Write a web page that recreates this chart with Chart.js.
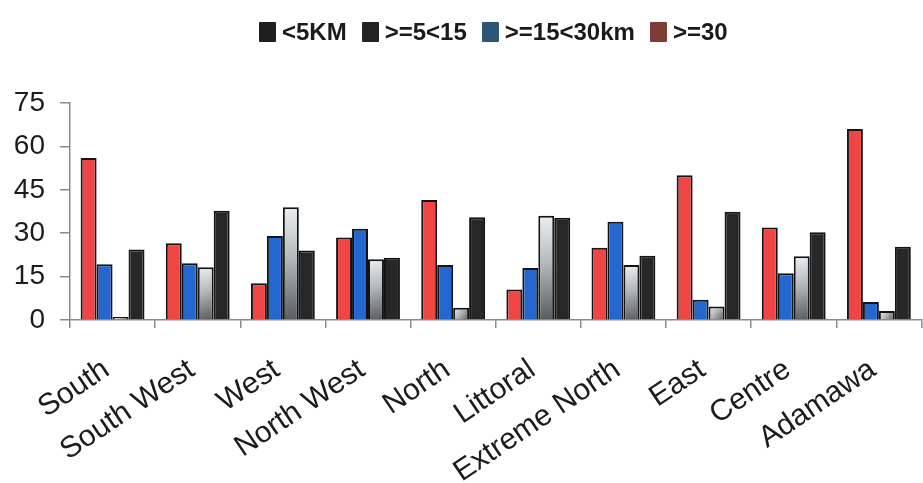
<!DOCTYPE html>
<html>
<head>
<meta charset="utf-8">
<script src="https://cdn.jsdelivr.net/npm/chart.js@4/dist/chart.umd.min.js"></script>
<style>
  html, body { margin: 0; padding: 0; background: #fff; }
  #wrap { position: relative; width: 923px; height: 483px; }
  #legend {
    position: absolute; left: 259px; top: 20px; height: 24px;
    display: flex; align-items: center;
    font-family: "Liberation Sans", Arial, sans-serif; font-weight: bold; font-size: 24px; color: #1a1a1a;
  }
  #legend .item { display: flex; align-items: center; margin-right: 15px; }
  #legend .box { width: 17px; height: 20px; margin-right: 6px; border-radius: 1px; }
</style>
</head>
<body>
<div id="wrap">
  <canvas id="c" width="923" height="483"></canvas>
  <div id="legend"></div>
</div>
<script>
// Regions and distance bands
const regions = ["South", "South West", "West", "North West", "North", "Littoral", "Extreme North", "East", "Centre", "Adamawa"];
const yTicks = [0, 15, 30, 45, 60, 75];

const over30     = [56, 26.5, 12.7, 28.5, 41.5, 10.5, 25, 50, 32, 66];
const from15to30 = [19.3, 19.6, 29, 31.5, 19, 18, 34, 7, 16.2, 6.2];
const from5to15  = [1, 18.2, 39, 21, 4.2, 36, 19, 4.7, 22, 3.1];
const under5     = [24.4, 37.8, 24, 21.5, 35.5, 35.3, 22.2, 37.4, 30.3, 25.3];

const legendItems = [
  { label: "<5KM", color: "#1f1f1f" },
  { label: ">=5<15", color: "#232323" },
  { label: ">=15<30km", color: "#2b5676" },
  { label: ">=30", color: "#7d3c34" }
];

const FONT = "'Liberation Sans', Arial, sans-serif";

// shaded fill for the >=5<15 bars, light at top-left, darker at bottom-right
function silverFill(context) {
  const chart = context.chart;
  if (!chart.chartArea || !chart.scales.y || !chart.scales.x) return "#b8bcbf";
  const y = chart.scales.y;
  const v = context.raw;
  const top = y.getPixelForValue(v);
  const base = y.getPixelForValue(0);
  const meta = chart.getDatasetMeta(context.datasetIndex);
  const el = meta.data[context.dataIndex];
  let x0 = 0, x1 = 16;
  if (el && el.width) { x0 = el.x - el.width / 2; x1 = el.x + el.width / 2; }
  const g = chart.ctx.createLinearGradient(x0, top, x1, Math.max(base, top + 1));
  g.addColorStop(0, "#eef1f3");
  g.addColorStop(0.45, "#b5b9bc");
  g.addColorStop(1, "#565a5c");
  return g;
}

const ds = (label, data, bg) => ({
  label, data, backgroundColor: bg,
  borderColor: "#141414", borderWidth: 2, borderSkipped: "start",
  barPercentage: 1.0, categoryPercentage: 0.75
});

const chart = new Chart(document.getElementById("c"), {
  type: "bar",
  data: {
    labels: regions,
    datasets: [
      ds(">=30", over30, "#ef4545"),
      ds(">=15<30km", from15to30, "#2468cf"),
      ds(">=5<15", from5to15, silverFill),
      ds("<5KM", under5, "#272727")
    ]
  },
  options: {
    responsive: false,
    animation: false,
    layout: { padding: { top: 103, left: 12, right: 0, bottom: 0 } },
    plugins: { legend: { display: false }, tooltip: { enabled: false } },
    scales: {
      x: {
        grid: { display: true, drawOnChartArea: false, offset: true, tickLength: 8, color: "#8a8a8a", lineWidth: 1.5 },
        border: { display: true, color: "#8a8a8a", width: 1.5 },
        ticks: {
          autoSkip: false, minRotation: 34, maxRotation: 34, padding: 24, labelOffset: -6,
          color: "#1c1c1c", font: { family: FONT, size: 30 }
        },
        afterFit: (s) => { s.height = 163; }
      },
      y: {
        min: 0, max: 75,
        afterBuildTicks: (s) => { s.ticks = yTicks.map(v => ({ value: v })); },
        grid: { display: true, drawOnChartArea: false, tickLength: 10, color: "#8a8a8a", lineWidth: 1.5 },
        border: { display: true, color: "#8a8a8a", width: 1.5 },
        ticks: { padding: 15, color: "#1c1c1c", font: { family: FONT, size: 28 } },
        afterFit: (s) => { s.width = 58; }
      }
    }
  }
});
// re-render once element geometry is known so the shaded bars get per-bar gradients
chart.update();

const legend = document.getElementById("legend");
legendItems.forEach(it => {
  const item = document.createElement("div");
  item.className = "item";
  const box = document.createElement("span");
  box.className = "box";
  box.style.background = it.color;
  const txt = document.createElement("span");
  txt.textContent = it.label;
  item.appendChild(box);
  item.appendChild(txt);
  legend.appendChild(item);
});
</script>
</body>
</html>
